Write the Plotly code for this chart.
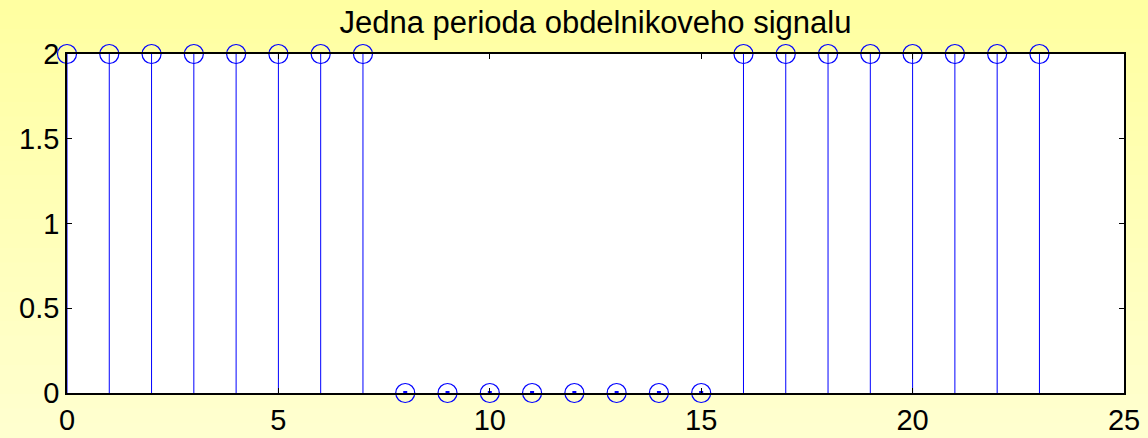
import plotly.graph_objects as go

# One period of the rectangular signal: samples n = 0..23
n = list(range(24))
x_vals = [2, 2, 2, 2, 2, 2, 2, 2,
          0, 0, 0, 0, 0, 0, 0, 0,
          2, 2, 2, 2, 2, 2, 2, 2]

title_text = "Jedna perioda obdelnikoveho signalu"
x_ticks = [0, 5, 10, 15, 20, 25]
y_ticks = [0, 0.5, 1, 1.5, 2]
y_tick_text = ["0", "0.5", "1", "1.5", "2"]

W, H = 1148, 438
ML, MR, MT, MB = 67, 24, 54, 45
plot_h = H - MT - MB

blue = "#0000FF"

fig = go.Figure()

# stems: vertical lines from zero to each sample value
sx, sy = [], []
for xi, yi in zip(n, x_vals):
    sx += [xi, xi, None]
    sy += [0, yi, None]
fig.add_trace(go.Scatter(x=sx, y=sy, mode="lines",
                         line=dict(color=blue, width=1),
                         hoverinfo="skip", showlegend=False, cliponaxis=False))

# zero-length stems show as a small dot
zx = [xi for xi, yi in zip(n, x_vals) if yi == 0]
zy = [yi for yi in x_vals if yi == 0]
fig.add_trace(go.Scatter(x=zx, y=zy, mode="markers",
                         marker=dict(symbol="square", size=4, color=blue),
                         hoverinfo="skip", showlegend=False, cliponaxis=False))

# open circle markers on each sample
fig.add_trace(go.Scatter(x=n, y=x_vals, mode="markers",
                         marker=dict(symbol="circle-open", size=19,
                                     color=blue, line=dict(width=1.2, color=blue)),
                         showlegend=False, cliponaxis=False))

# pale yellow vertical gradient behind the figure
shapes = []
steps = 30
top_c = (255, 255, 160)
bot_c = (255, 255, 208)
for i in range(steps):
    py0 = H * i / steps
    py1 = H * (i + 1) / steps + 1
    t = (i + 0.5) / steps
    c = tuple(round(a + (b - a) * t) for a, b in zip(top_c, bot_c))
    y1 = (H - MB - py0) / plot_h
    y0 = (H - MB - py1) / plot_h
    shapes.append(dict(type="rect", xref="paper", yref="paper",
                       x0=-0.2, x1=1.2, y0=y0, y1=y1,
                       fillcolor="rgb(%d,%d,%d)" % c, line=dict(width=0),
                       layer="below"))
# white axes area
shapes.append(dict(type="rect", xref="paper", yref="paper",
                   x0=0, x1=1, y0=0, y1=1, fillcolor="white",
                   line=dict(width=0), layer="below"))

fig.update_layout(
    width=W, height=H,
    margin=dict(l=ML, r=MR, t=MT, b=MB, autoexpand=False),
    paper_bgcolor="rgb(255,255,190)",
    plot_bgcolor="white",
    shapes=shapes,
    title=dict(text=title_text, x=0.5, xref="paper", xanchor="center",
               y=1 - 22 / H, yanchor="middle",
               font=dict(family="Liberation Sans, Arial", size=31, color="black")),
    font=dict(family="Liberation Sans, Arial", size=29, color="black"),
    xaxis=dict(range=[0, 25], tickvals=x_ticks, ticks="inside", ticklen=5,
               tickcolor="black", showline=True, linecolor="black", linewidth=1.5,
               mirror="ticks", showgrid=False, zeroline=False, automargin=False,
               tickfont=dict(size=29)),
    yaxis=dict(range=[0, 2], tickvals=y_ticks, ticktext=y_tick_text,
               ticks="inside", ticklen=5, tickcolor="black",
               showline=True, linecolor="black", linewidth=1.5, mirror="ticks",
               showgrid=False, zeroline=False, automargin=False,
               tickfont=dict(size=29)),
)

fig.write_html("out.html")
